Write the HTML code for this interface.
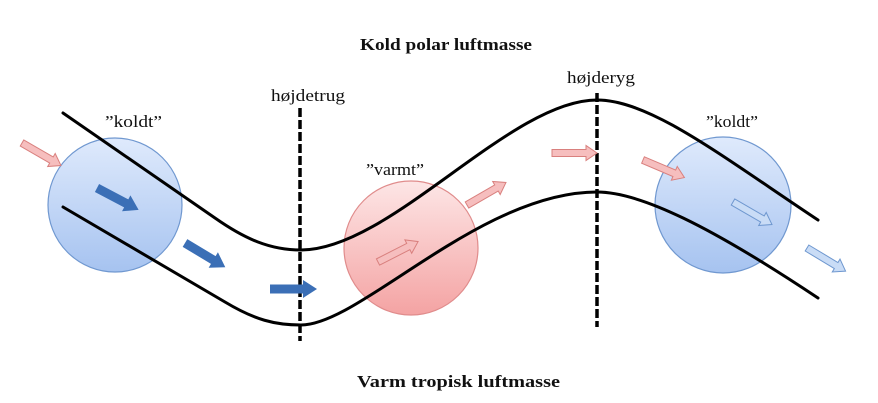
<!DOCTYPE html>
<html><head><meta charset="utf-8"><style>
html,body{margin:0;padding:0;background:#fff;}
svg{display:block;}
text{font-family:"Liberation Serif",serif;fill:#111;}
</style></head><body>
<svg width="878" height="403" viewBox="0 0 878 403" xmlns="http://www.w3.org/2000/svg">
<defs>
<linearGradient id="gb" x1="0" y1="0" x2="0" y2="1">
<stop offset="0" stop-color="#dfeafc"/><stop offset="1" stop-color="#a6c3f0"/>
</linearGradient>
<linearGradient id="gr" x1="0" y1="0" x2="0" y2="1">
<stop offset="0" stop-color="#fde6e6"/><stop offset="1" stop-color="#f4a3a3"/>
</linearGradient>
<path id="ab" d="M0,-4.5 L33,-4.5 L33,-9 L47,0 L33,9 L33,4.5 L0,4.5 Z"/>
<path id="ap" d="M0,-3.5 L34,-3.5 L34,-7.5 L45,0 L34,7.5 L34,3.5 L0,3.5 Z"/>
</defs>

<circle cx="115" cy="205" r="67" fill="url(#gb)" stroke="#7098d0" stroke-width="1.2"/>
<circle cx="411" cy="248" r="67" fill="url(#gr)" stroke="#e08c8c" stroke-width="1.2"/>
<circle cx="723" cy="205" r="68" fill="url(#gb)" stroke="#7098d0" stroke-width="1.2"/>

<path fill="none" stroke="#000" stroke-width="3" stroke-linecap="round"
d="M63,113 L215,218 C245,239 270,250 301,250 C390,250 510,100 597,100 C650,100 720,155 818,220"/>
<path fill="none" stroke="#000" stroke-width="3" stroke-linecap="round"
d="M63,207 L225,302 C255,320 275,325 301,325 C360,325 480,192 597,192 C640,192 710,226 818,298"/>

<line x1="300" y1="108" x2="300" y2="341" stroke="#000" stroke-width="3.5" stroke-dasharray="9,3"/>
<line x1="597" y1="93" x2="597" y2="327" stroke="#000" stroke-width="3.5" stroke-dasharray="9,3"/>

<!-- blue solid arrows -->
<g fill="#3b6fb6">
<use href="#ab" transform="translate(97,188) rotate(27.7)"/>
<use href="#ab" transform="translate(185,243) rotate(31)"/>
<use href="#ab" transform="translate(270,289)"/>
</g>
<!-- pink arrows -->
<g fill="#f6bebe" stroke="#d9807e" stroke-width="1">
<use href="#ap" transform="translate(22,143) rotate(30)"/>
<use href="#ap" transform="translate(378,262) rotate(-27)"/>
<use href="#ap" transform="translate(467,205) rotate(-30)"/>
<use href="#ap" transform="translate(552,153)"/>
<use href="#ap" transform="translate(643,160) rotate(23)"/>
</g>
<!-- light blue arrows -->
<g fill="#c9dcf6" stroke="#6e97cf" stroke-width="1">
<use href="#ap" transform="translate(733,202) rotate(30)"/>
<use href="#ap" transform="translate(807,248) rotate(31)"/>
</g>

<text x="360" y="50" font-size="17" font-weight="bold" textLength="172" lengthAdjust="spacingAndGlyphs">Kold polar luftmasse</text>
<text x="357" y="387" font-size="17" font-weight="bold" textLength="203" lengthAdjust="spacingAndGlyphs">Varm tropisk luftmasse</text>
<text x="271" y="101" font-size="17" textLength="74" lengthAdjust="spacingAndGlyphs">højdetrug</text>
<text x="567" y="83" font-size="17" textLength="68" lengthAdjust="spacingAndGlyphs">højderyg</text>
<text x="105" y="127" font-size="17" textLength="57" lengthAdjust="spacingAndGlyphs">”koldt”</text>
<text x="366" y="175" font-size="17" textLength="58" lengthAdjust="spacingAndGlyphs">”varmt”</text>
<text x="706" y="127" font-size="17" textLength="52" lengthAdjust="spacingAndGlyphs">”koldt”</text>
</svg>
</body></html>
